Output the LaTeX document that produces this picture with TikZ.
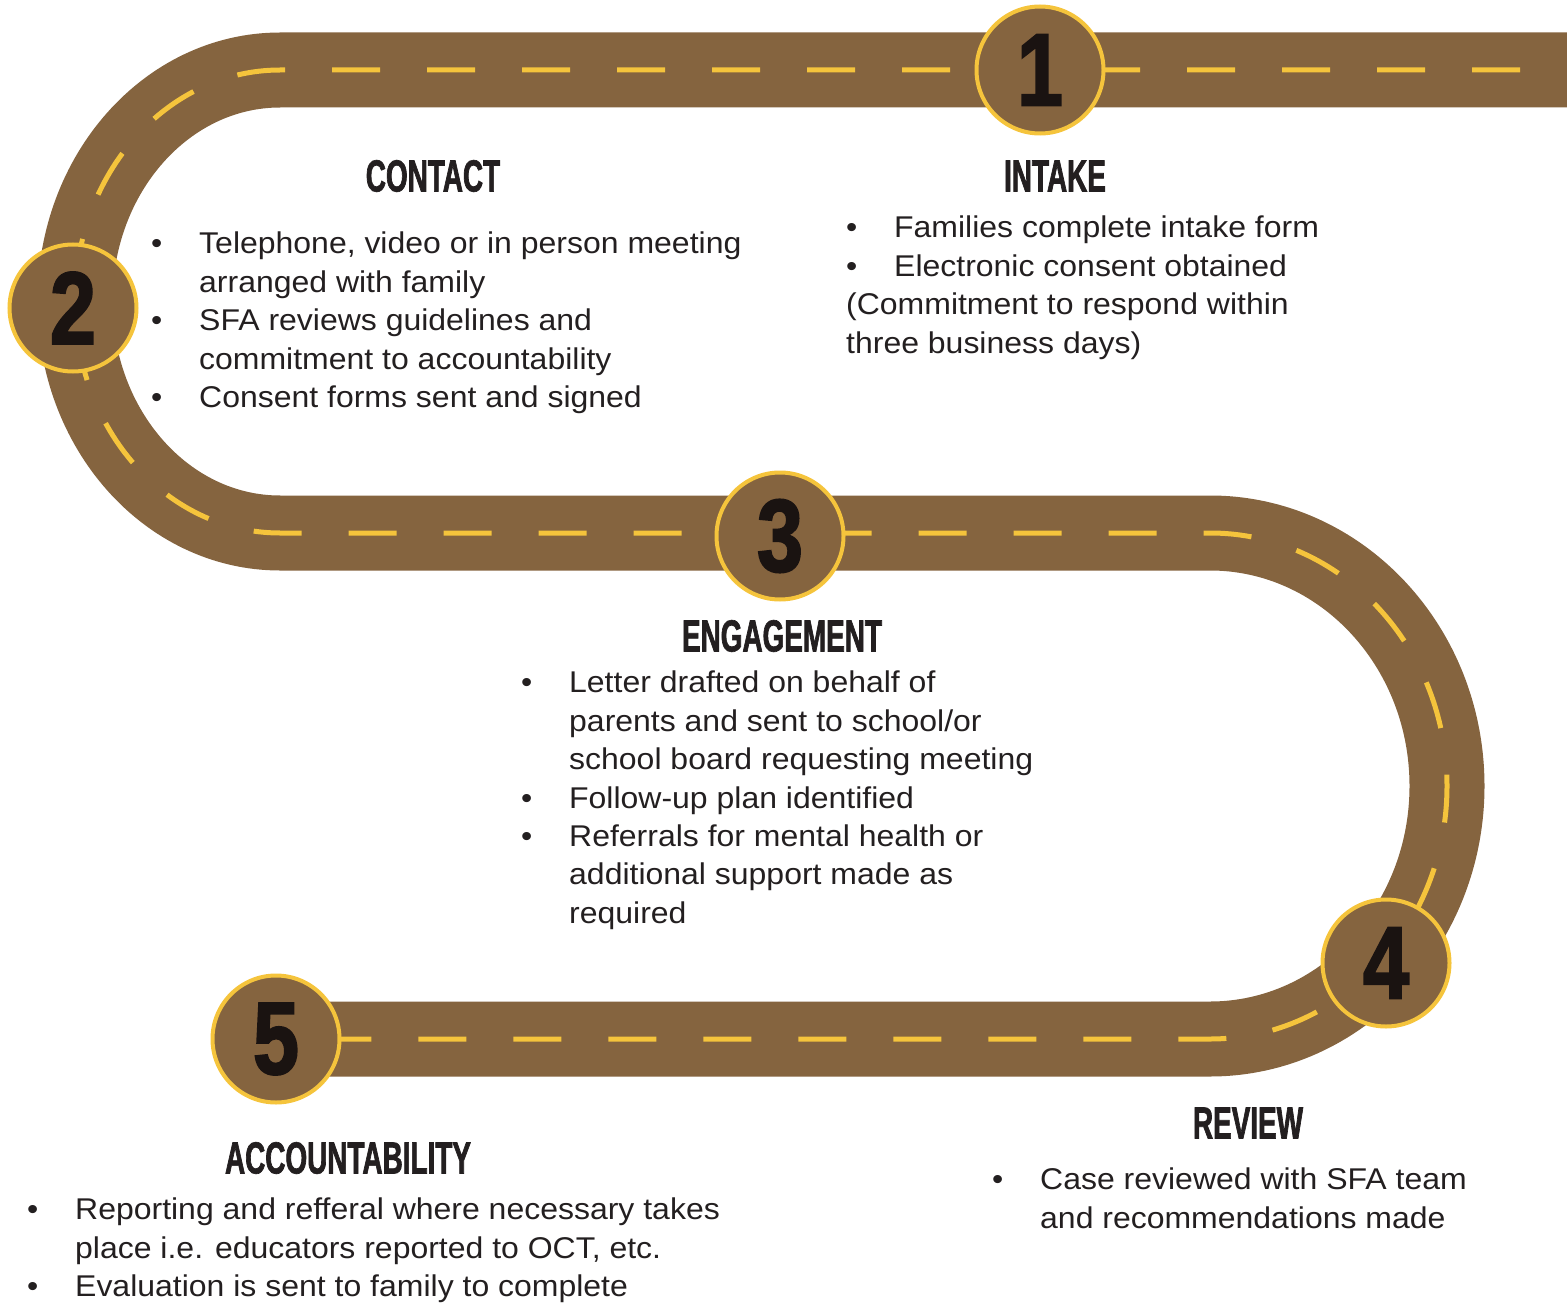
\documentclass[tikz,border=0pt]{standalone}
\usepackage{fontspec}
\setmainfont[FakeStretch=1.066]{Liberation Sans}
\newfontfamily\headfont[FakeStretch=0.62,FakeBold=1.5]{Liberation Sans}
\newfontfamily\numfont[FakeStretch=0.8,FakeBold=2]{Liberation Sans}
\definecolor{roadbrown}{RGB}{133,100,63}
\definecolor{lineyellow}{RGB}{245,196,60}
\definecolor{inkdark}{RGB}{35,31,32}
\definecolor{numdark}{RGB}{26,19,17}
\newcommand{\itembul}{\makebox[48pt][l]{\textbullet}}
\newcommand{\itemind}{\hspace*{48pt}}

\begin{document}
\begin{tikzpicture}
        [x=1pt,y=-1pt,
        stepnum/.style={shape=circle,draw=lineyellow,line width=4pt,
          fill=roadbrown,minimum size=127pt,inner sep=0pt,text=numdark,
          font=\numfont\bfseries\fontsize{103}{103}\selectfont},
        heading/.style={inner sep=0pt,text=inkdark,
          font=\headfont\bfseries\fontsize{45}{45}\selectfont},
        body/.style={anchor=north west,inner sep=0pt,align=left,text=inkdark,
          font=\fontsize{30}{38.4}\selectfont}]
        \useasboundingbox (0,0) rectangle (1567,1303);
        %% road
        \draw[lineyellow,line width=5pt,dash pattern=on 48pt off 47pt,dash phase=48pt,
          preaction={draw=roadbrown,line width=75pt,solid}]
          (1567,70) -- (280,70)
          arc[start angle=270,end angle=90,x radius=205,y radius=231.5]
          -- (1210,533)
          arc[start angle=270,end angle=450,x radius=237,y radius=253]
          -- (276,1039);
        %% steps
        \node[stepnum] (one) at (1040,70) {1};
        \node[stepnum] (two) at (73,308) {2};
        \node[stepnum] (three) at (780,536) {3};
        \node[stepnum] (four) at (1386,963) {4};
        \node[stepnum] (five) at (276,1039) {5};
        %% texts
        \node[heading] (contact) at (433,176) {CONTACT};
        \node[body] (contacttext) at (151,232) {\itembul Telephone, video or in person meeting\\
          \itemind arranged with family\\
          \itembul SFA reviews guidelines and\\
          \itemind commitment to accountability\\
          \itembul Consent forms sent and signed};
        %%
        \node[heading] (intake) at (1055,176) {INTAKE};
        \node[body] (intaketext) at (846,216) {\itembul Families complete intake form\\
          \itembul Electronic consent obtained\\
          (Commitment to respond within\\
          three business days)};
        %%
        \node[heading] (engagement) at (782,636) {ENGAGEMENT};
        \node[body] (engagementtext) at (521,671) {\itembul Letter drafted on behalf of\\
          \itemind parents and sent to school/or\\
          \itemind school board requesting meeting\\
          \itembul Follow-up plan identified\\
          \itembul Referrals for mental health or\\
          \itemind additional support made as\\
          \itemind required};
        %%
        \node[heading] (review) at (1248,1123) {REVIEW};
        \node[body] (reviewtext) at (992,1168) {\itembul Case reviewed with SFA team\\
          \itemind and recommendations made};
        %%
        \node[heading] (accountability) at (348,1158) {ACCOUNTABILITY};
        \node[body] (accountabilitytext) at (27,1198) {\itembul Reporting and refferal where necessary takes\\
          \itemind place i.e. educators reported to OCT, etc.\\
          \itembul Evaluation is sent to family to complete};
        \end{tikzpicture}
\end{document}
